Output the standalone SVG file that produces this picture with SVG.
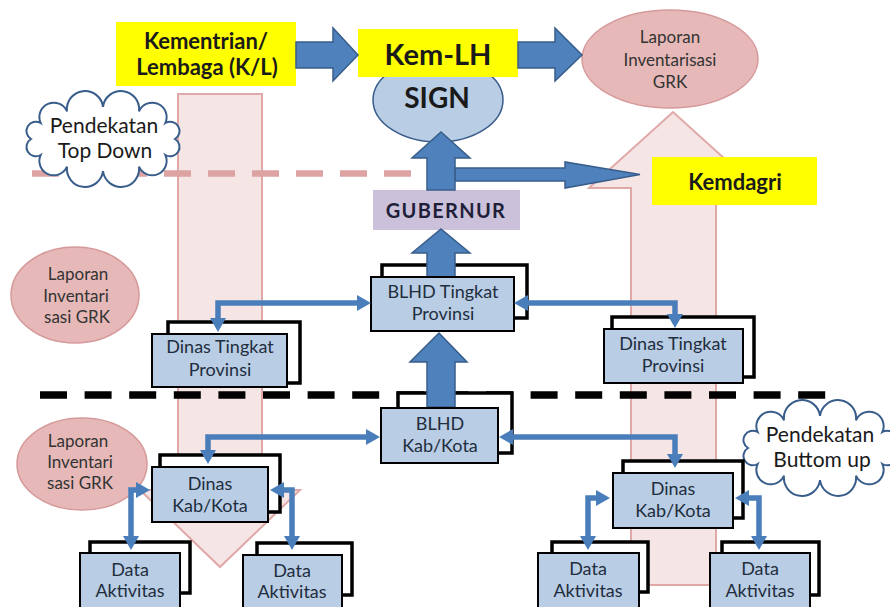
<svg xmlns="http://www.w3.org/2000/svg" width="890" height="607" viewBox="0 0 890 607">
<defs>
<style>
.t{font-family:Lato,"Liberation Sans",Arial,sans-serif;text-anchor:middle}
.bx{font-size:18px;fill:#1f2d3d}
.pk{fill:#333333}
.yb{fill:#ffff00}
.back{fill:#ffffff;stroke:#000;stroke-width:3.5}
.front{fill:#b9cde5;stroke:#000;stroke-width:2}
.blk{fill:#4f81bd;stroke:#385d8a;stroke-width:1.5}
.pinkA{fill:#f2dcdb;fill-opacity:0.75;stroke:#e0a9a8;stroke-width:2}
.ell{fill:#e6b9b8;stroke:#d6999a;stroke-width:1.5}
.cloud{fill:#ffffff;stroke:#385d8a;stroke-width:2}
.con{fill:none;stroke:#4a7ebb;stroke-width:5.5;marker-start:url(#ah);marker-end:url(#ah)}
</style>
<marker id="ah" markerUnits="userSpaceOnUse" markerWidth="16" markerHeight="16" viewBox="0 0 16 16" refX="6" refY="8" orient="auto-start-reverse"><path d="M0,0 L14,8 L0,16 z" fill="#4a7ebb"/></marker>
</defs>
<rect width="890" height="607" fill="#ffffff"/>

<g id="bg-arrows">
<polygon class="pinkA" points="178,94 262,94 262,490 300,490 220,567 140,490 178,490"/>
<polygon class="pinkA" points="631,585 716,585 716,188 757,188 673,112 589,188 631,188"/>
</g>

<g id="dividers">
<line x1="32" y1="173.5" x2="416" y2="173.5" stroke="#dca3a2" stroke-width="6.5" stroke-dasharray="27 17"/>
<line x1="40" y1="395" x2="826" y2="395" stroke="#000" stroke-width="7.5" stroke-dasharray="27 17.6"/>
</g>

<g id="cloud-topdown">
<path class="cloud" d="M175,139 A1,1 0 0 1 165.4,155 A1,1 0 0 1 139,166.7 A1,1 0 0 1 103,171 A1,1 0 0 1 67,166.7 A1,1 0 0 1 40.6,155 A1,1 0 0 1 31,139 A1,1 0 0 1 40.6,123 A1,1 0 0 1 67,111.3 A1,1 0 0 1 103,107 A1,1 0 0 1 139,111.3 A1,1 0 0 1 165.4,123 A1,1 0 0 1 175,139 Z"/>
<text class="t" x="104" y="133" font-size="21" fill="#1a1a1a">Pendekatan</text>
<text class="t" x="105" y="158" font-size="21" fill="#1a1a1a">Top Down</text>
</g>

<g id="cloud-bottomup">
<path class="cloud" d="M892,448 A1,1 0 0 1 882.4,464 A1,1 0 0 1 856,475.7 A1,1 0 0 1 820,480 A1,1 0 0 1 784,475.7 A1,1 0 0 1 757.6,464 A1,1 0 0 1 748,448 A1,1 0 0 1 757.6,432 A1,1 0 0 1 784,420.3 A1,1 0 0 1 820,416 A1,1 0 0 1 856,420.3 A1,1 0 0 1 882.4,432 A1,1 0 0 1 892,448 Z"/>
<text class="t" x="820" y="442" font-size="21" fill="#1a1a1a">Pendekatan</text>
<text class="t" x="822" y="467" font-size="21" fill="#1a1a1a">Buttom up</text>
</g>

<g id="kl">
<rect class="yb" x="116" y="22" width="180" height="64"/>
<text class="t" x="206" y="49" font-size="22" font-weight="bold" fill="#1a1a1a">Kementrian/</text>
<text class="t" x="207" y="75" font-size="22" font-weight="bold" fill="#1a1a1a">Lembaga (K/L)</text>
</g>

<g id="sign">
<ellipse cx="438" cy="100" rx="65" ry="42" fill="#b9cde5" stroke="#385d8a" stroke-width="1.5"/>
<text class="t" x="437" y="108" font-size="28" font-weight="bold" fill="#1a1a1a">SIGN</text>
</g>

<g id="kemlh">
<rect class="yb" x="358" y="29" width="160" height="48"/>
<text class="t" x="438" y="65" font-size="29" font-weight="bold" fill="#1a1a1a">Kem-LH</text>
</g>

<g id="laporan-top">
<ellipse class="ell" cx="670" cy="59" rx="88" ry="49"/>
<text class="t pk" x="670" y="43" font-size="17">Laporan</text>
<text class="t pk" x="670" y="66" font-size="17">Inventarisasi</text>
<text class="t pk" x="670" y="88" font-size="17">GRK</text>
</g>

<g id="laporan-prov">
<ellipse class="ell" cx="75" cy="295" rx="64" ry="48"/>
<text class="t pk" x="78" y="280" font-size="17">Laporan</text>
<text class="t pk" x="76" y="302" font-size="17">Inventari</text>
<text class="t pk" x="77" y="323" font-size="17">sasi GRK</text>
</g>

<g id="laporan-kab">
<ellipse class="ell" cx="82" cy="464" rx="65" ry="46"/>
<text class="t pk" x="78" y="447" font-size="17">Laporan</text>
<text class="t pk" x="80" y="468" font-size="17">Inventari</text>
<text class="t pk" x="80" y="489" font-size="17">sasi GRK</text>
</g>

<g id="kemdagri">
<rect class="yb" x="652" y="157" width="165" height="48"/>
<text class="t" x="735" y="190" font-size="22" font-weight="bold" fill="#1a1a1a">Kemdagri</text>
</g>

<g id="gubernur">
<rect x="373" y="190" width="147" height="40" fill="#ccc1da"/>
<text class="t" x="446" y="218" font-size="20" font-weight="bold" fill="#1f1f3a" letter-spacing="1.3">GUBERNUR</text>
</g>

<g id="block-arrows">
<polygon class="blk" points="296,42 333,42 333,28 358,55 333,81 333,68 296,68"/>
<polygon class="blk" points="518,42 555,42 555,28 582,55 555,81 555,68 518,68"/>
<polygon class="blk" points="455,168 565,168 565,162 640,174.5 565,188 565,181 455,181"/>
<polygon class="blk" points="427,190 427,158 412,158 441,132 470,158 455,158 455,190"/>
</g>

<g id="blhd-prov">
<rect class="back" x="382" y="265" width="145" height="53"/>
<polygon class="blk" points="427,277 427,253 412,253 441,229 470,253 455,253 455,277"/>
<rect class="front" x="371" y="277" width="143" height="54"/>
<text class="t bx" x="443" y="298">BLHD Tingkat</text>
<text class="t bx" x="443" y="320">Provinsi</text>
</g>

<g id="blhd-kab">
<rect class="back" x="398" y="393" width="114" height="60"/>
<polygon class="blk" points="427,407 427,362 410,362 439,333 467,362 455,362 455,407"/>
<rect class="front" x="381" y="408" width="117" height="55"/>
<text class="t bx" x="440" y="430">BLHD</text>
<text class="t bx" x="440" y="452">Kab/Kota</text>
</g>

<g id="dinas-prov-left">
<rect class="back" x="168" y="322" width="132" height="61"/>
<rect class="front" x="152" y="334" width="135" height="53"/>
<text class="t bx" x="220" y="353">Dinas Tingkat</text>
<text class="t bx" x="220" y="376">Provinsi</text>
</g>

<g id="dinas-prov-right">
<rect class="back" x="612" y="317" width="142" height="60"/>
<rect class="front" x="604" y="329" width="139" height="54"/>
<text class="t bx" x="673" y="350">Dinas Tingkat</text>
<text class="t bx" x="673" y="372">Provinsi</text>
</g>

<g id="dinas-kab-left">
<rect class="back" x="160" y="455" width="120" height="57"/>
<rect class="front" x="152" y="467" width="116" height="55"/>
<text class="t bx" x="210" y="490">Dinas</text>
<text class="t bx" x="210" y="512">Kab/Kota</text>
</g>

<g id="dinas-kab-right">
<rect class="back" x="623" y="461" width="120" height="57"/>
<rect class="front" x="613" y="473" width="120" height="55"/>
<text class="t bx" x="673" y="495">Dinas</text>
<text class="t bx" x="673" y="517">Kab/Kota</text>
</g>

<g id="data-l1">
<rect class="back" x="90" y="542" width="100" height="51"/>
<rect class="front" x="80" y="553" width="100" height="70"/>
<text class="t bx" x="130" y="576">Data</text>
<text class="t bx" x="130" y="597">Aktivitas</text>
</g>

<g id="data-l2">
<rect class="back" x="257" y="543" width="95" height="52"/>
<rect class="front" x="243" y="555" width="99" height="70"/>
<text class="t bx" x="292" y="577">Data</text>
<text class="t bx" x="292" y="598">Aktivitas</text>
</g>

<g id="data-r1">
<rect class="back" x="552" y="542" width="96" height="50"/>
<rect class="front" x="538" y="553" width="101" height="70"/>
<text class="t bx" x="588" y="575">Data</text>
<text class="t bx" x="588" y="597">Aktivitas</text>
</g>

<g id="data-r2">
<rect class="back" x="722" y="542" width="97" height="53"/>
<rect class="front" x="710" y="553" width="100" height="70"/>
<text class="t bx" x="760" y="575">Data</text>
<text class="t bx" x="760" y="597">Aktivitas</text>
</g>

<g id="connectors">
<path class="con" d="M218,324 V303 H363"/>
<path class="con" d="M522,303 H675 V320"/>
<path class="con" d="M208,456 V437 H372"/>
<path class="con" d="M507,437 H675 V460"/>
<path class="con" d="M142,490 H131 V542"/>
<path class="con" d="M278,490 H292 V542"/>
<path class="con" d="M602,498 H588 V542"/>
<path class="con" d="M743,498 H759 V542"/>
</g>
</svg>
